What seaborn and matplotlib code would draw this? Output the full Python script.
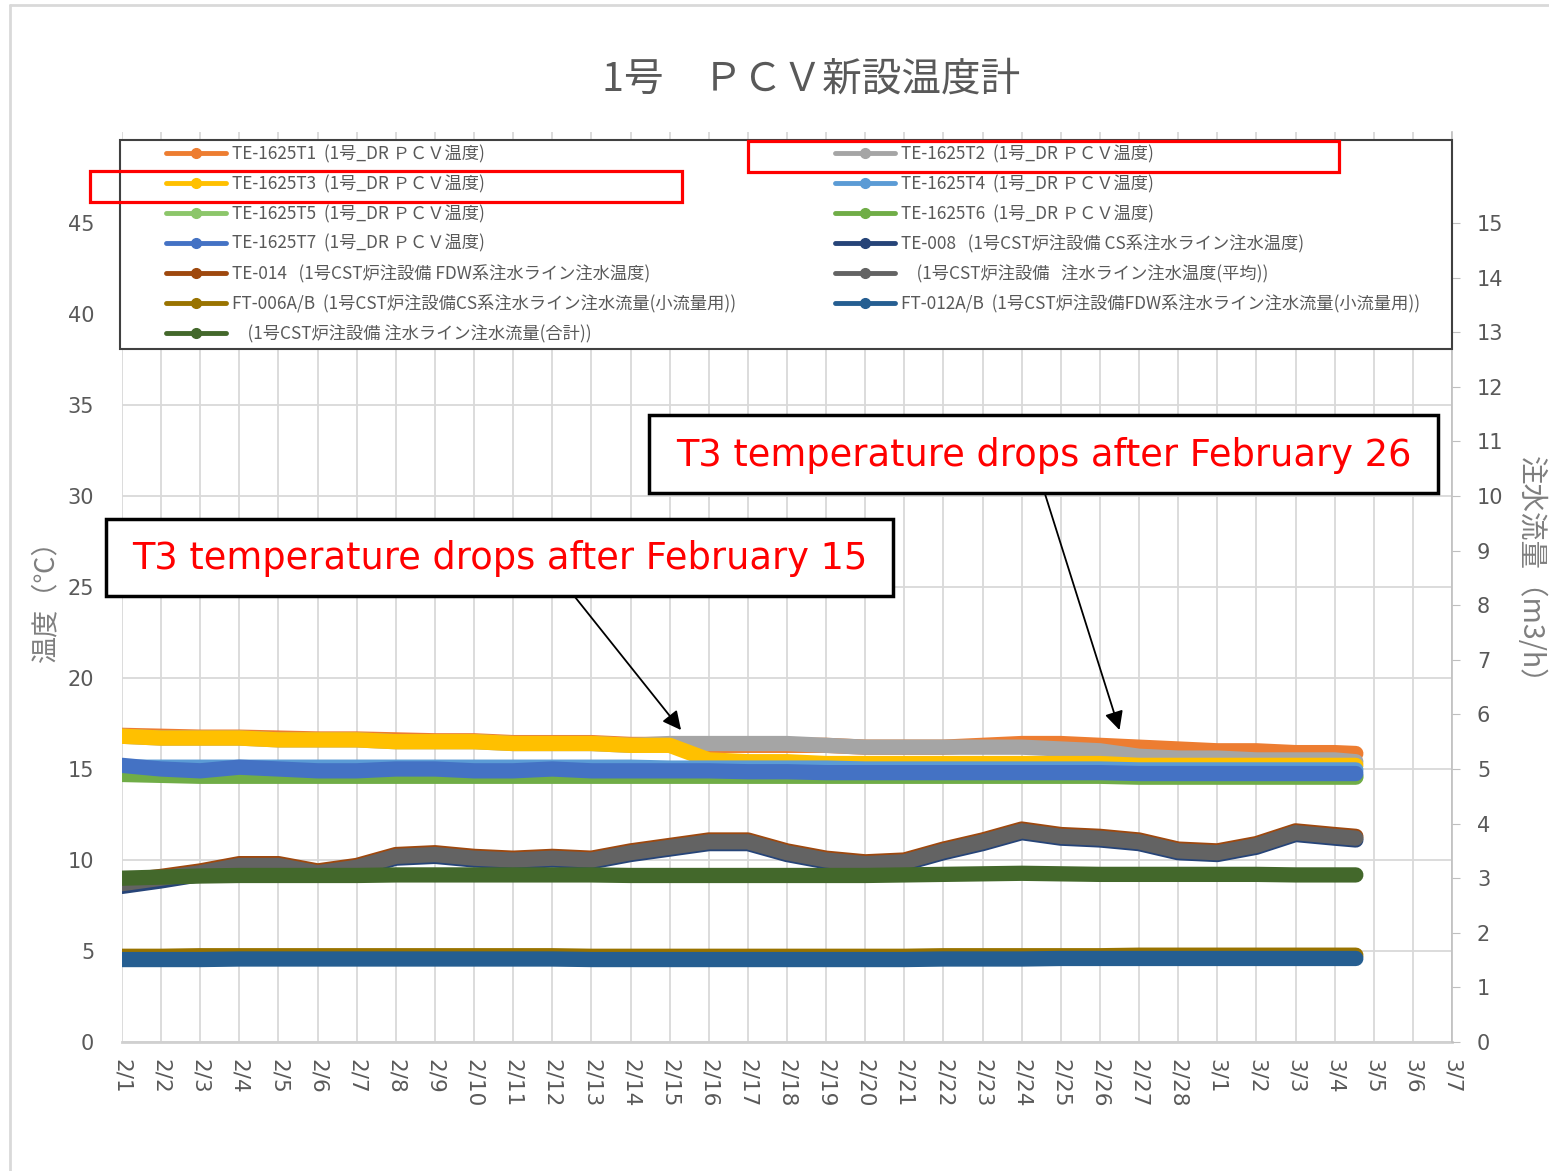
import datetime as dt
import numpy as np
import pandas as pd
import matplotlib
matplotlib.use("Agg")
import matplotlib.pyplot as plt
import matplotlib.dates as mdates
from matplotlib.patches import Rectangle
from matplotlib.lines import Line2D
from matplotlib.ticker import FuncFormatter
import seaborn as sns

# ---------------- data ----------------
days = list(pd.date_range("2023-02-01", "2023-03-04", freq="D")) + [pd.Timestamp("2023-03-04 13:00")]

t1 = [16.85, 16.8, 16.75, 16.75, 16.7, 16.65, 16.65, 16.6, 16.55, 16.55, 16.45, 16.45, 16.45, 16.35, 16.35, 16.3,
      16.3, 16.3, 16.3, 16.2, 16.2, 16.2, 16.3, 16.4, 16.4, 16.3, 16.2, 16.1, 16.0, 16.0, 15.9, 15.9, 15.85]
t2 = [16.8, 16.7, 16.7, 16.7, 16.6, 16.6, 16.6, 16.5, 16.5, 16.5, 16.4, 16.4, 16.4, 16.3, 16.4, 16.4,
      16.4, 16.4, 16.3, 16.2, 16.2, 16.2, 16.2, 16.2, 16.1, 16.0, 15.7, 15.6, 15.6, 15.5, 15.5, 15.5, 15.4]
t3 = [16.8, 16.7, 16.7, 16.7, 16.6, 16.6, 16.6, 16.5, 16.5, 16.5, 16.4, 16.4, 16.4, 16.3, 16.3, 15.5,
      15.4, 15.4, 15.3, 15.3, 15.3, 15.3, 15.3, 15.3, 15.3, 15.3, 15.2, 15.2, 15.2, 15.2, 15.2, 15.2, 15.2]
t4 = [15.1, 15.1, 15.1, 15.1, 15.1, 15.1, 15.1, 15.1, 15.1, 15.1, 15.1, 15.1, 15.1, 15.1, 15.05, 15.05,
      15.05, 15.05, 15.05, 15.0, 15.0, 15.0, 15.0, 15.0, 15.0, 15.0, 14.95, 14.95, 14.95, 14.95, 14.95, 14.95, 14.95]
t5 = [14.8, 14.75, 14.7, 14.7, 14.7, 14.7, 14.7, 14.7, 14.7, 14.7, 14.7, 14.7, 14.7, 14.7, 14.7, 14.7,
      14.65, 14.65, 14.65, 14.65, 14.65, 14.65, 14.65, 14.65, 14.65, 14.65, 14.6, 14.6, 14.6, 14.6, 14.6, 14.6, 14.6]
t6 = [14.7, 14.65, 14.6, 14.6, 14.6, 14.6, 14.6, 14.6, 14.6, 14.6, 14.6, 14.6, 14.6, 14.6, 14.6, 14.6,
      14.6, 14.6, 14.6, 14.6, 14.6, 14.6, 14.6, 14.6, 14.6, 14.6, 14.55, 14.55, 14.55, 14.55, 14.55, 14.55, 14.55]
t7 = [15.2, 15.0, 14.9, 15.1, 15.0, 14.9, 14.9, 15.0, 15.0, 14.9, 14.9, 15.0, 14.9, 14.9, 14.9, 14.9,
      14.85, 14.85, 14.8, 14.8, 14.8, 14.8, 14.8, 14.8, 14.8, 14.8, 14.75, 14.75, 14.75, 14.75, 14.75, 14.75, 14.75]
te008 = [8.55, 8.85, 9.2, 9.6, 9.6, 9.2, 9.5, 10.1, 10.2, 10.0, 9.9, 10.0, 9.9, 10.3, 10.6, 10.9,
         10.9, 10.3, 9.9, 9.7, 9.8, 10.4, 10.9, 11.5, 11.2, 11.1, 10.9, 10.4, 10.3, 10.7, 11.4, 11.2, 11.1]
te014 = [8.85, 9.1, 9.4, 9.8, 9.8, 9.4, 9.7, 10.3, 10.4, 10.2, 10.1, 10.2, 10.1, 10.5, 10.8, 11.1,
         11.1, 10.5, 10.1, 9.9, 10.0, 10.6, 11.1, 11.7, 11.4, 11.3, 11.1, 10.6, 10.5, 10.9, 11.6, 11.4, 11.3]
te_avg = [8.7, 9.0, 9.3, 9.7, 9.7, 9.3, 9.6, 10.2, 10.3, 10.1, 10.0, 10.1, 10.0, 10.4, 10.7, 11.0,
          11.0, 10.4, 10.0, 9.8, 9.9, 10.5, 11.0, 11.6, 11.3, 11.2, 11.0, 10.5, 10.4, 10.8, 11.5, 11.3, 11.2]
ft006 = [1.57, 1.57, 1.58, 1.58, 1.58, 1.58, 1.58, 1.58, 1.58, 1.58, 1.58, 1.58, 1.57, 1.57, 1.57, 1.57,
         1.57, 1.57, 1.57, 1.57, 1.57, 1.58, 1.58, 1.58, 1.58, 1.58, 1.59, 1.59, 1.59, 1.59, 1.59, 1.59, 1.59]
ft012 = [1.51, 1.51, 1.51, 1.52, 1.52, 1.52, 1.52, 1.52, 1.52, 1.52, 1.52, 1.52, 1.51, 1.51, 1.51, 1.51,
         1.51, 1.51, 1.51, 1.51, 1.51, 1.52, 1.52, 1.52, 1.53, 1.53, 1.53, 1.53, 1.53, 1.53, 1.53, 1.53, 1.53]
ft_total = [3.0, 3.02, 3.04, 3.05, 3.05, 3.05, 3.05, 3.06, 3.06, 3.06, 3.06, 3.06, 3.06, 3.05, 3.05, 3.05,
            3.05, 3.05, 3.05, 3.05, 3.06, 3.07, 3.08, 3.09, 3.08, 3.07, 3.07, 3.07, 3.07, 3.07, 3.06, 3.06, 3.06]

names = [
    "TE-1625T1  (1号_DR ＰＣＶ温度)",
    "TE-1625T2  (1号_DR ＰＣＶ温度)",
    "TE-1625T3  (1号_DR ＰＣＶ温度)",
    "TE-1625T4  (1号_DR ＰＣＶ温度)",
    "TE-1625T5  (1号_DR ＰＣＶ温度)",
    "TE-1625T6  (1号_DR ＰＣＶ温度)",
    "TE-1625T7  (1号_DR ＰＣＶ温度)",
    "TE-008   (1号CST炉注設備 CS系注水ライン注水温度)",
    "TE-014   (1号CST炉注設備 FDW系注水ライン注水温度)",
    "    (1号CST炉注設備   注水ライン注水温度(平均))",
    "FT-006A/B  (1号CST炉注設備CS系注水ライン注水流量(小流量用))",
    "FT-012A/B  (1号CST炉注設備FDW系注水ライン注水流量(小流量用))",
    "    (1号CST炉注設備 注水ライン注水流量(合計))",
]
colors = ["#ED7D31", "#A5A5A5", "#FFC000", "#5B9BD5", "#8CC66A", "#70AD47", "#4472C4",
          "#264478", "#9E480E", "#636363", "#997300", "#255E91", "#43682B"]
temp_series = [t1, t2, t3, t4, t5, t6, t7, te008, te014, te_avg]
flow_series = [ft006, ft012, ft_total]

title = "1号　ＰＣＶ新設温度計"
ylabel_left = "温度（℃）"
ylabel_right = "注水流量（m3/h）"
note1 = "T3 temperature drops after February 15"
note2 = "T3 temperature drops after February 26"

# ---------------- style ----------------
sns.set_style("white")
plt.rcParams["font.family"] = ["Noto Sans CJK JP", "DejaVu Sans"]

W, H = 1549, 1171
fig = plt.figure(figsize=(W / 100, H / 100), dpi=100)
fig.patch.set_facecolor("white")

def fx(x):
    return x / W

def fy(y):
    return 1 - y / H

ax = fig.add_axes([fx(122), fy(1042), (1452 - 122) / W, (1042 - 132) / H])
ax2 = ax.twinx()

LW = 11
for vals, c in zip(temp_series, colors[:10]):
    sns.lineplot(x=days, y=vals, ax=ax, color=c, lw=LW, solid_capstyle="round", legend=False)
for vals, c in zip(flow_series, colors[10:]):
    sns.lineplot(x=days, y=vals, ax=ax2, color=c, lw=LW, solid_capstyle="round", legend=False)

ax.set_xlim(dt.datetime(2023, 2, 1), dt.datetime(2023, 3, 7))
ax.xaxis.set_major_locator(mdates.DayLocator())
ax.xaxis.set_major_formatter(FuncFormatter(lambda v, p: f"{mdates.num2date(v).month}/{mdates.num2date(v).day}"))
ax.set_ylim(0, 50)
ax.set_yticks(list(range(0, 50, 5)))
ax2.set_ylim(0, 50 / 3)
ax2.set_yticks(list(range(0, 16)))

ax.grid(True, color="#D9D9D9", lw=1.3)
ax.set_xlabel("")
ax.set_ylabel("")
ax2.set_ylabel("")
for s in ["left", "top", "right"]:
    ax.spines[s].set_visible(False)
ax.spines["bottom"].set_color("#D0D0D0")
ax.spines["bottom"].set_linewidth(2)
for s in ["left", "top", "bottom"]:
    ax2.spines[s].set_visible(False)
ax2.spines["right"].set_color("#BFBFBF")
ax2.spines["right"].set_linewidth(1.2)

ax.tick_params(axis="y", length=0, pad=20, labelsize=15, labelcolor="#595959")
ax.tick_params(axis="x", length=0, pad=12, labelsize=15.5, labelcolor="#595959")
ax2.tick_params(axis="y", length=6, color="#BFBFBF", pad=12, labelsize=15, labelcolor="#595959")
for lab in ax.get_xticklabels():
    lab.set_rotation(-90)
    lab.set_ha("center")
    lab.set_va("top")
    lab.set_family("DejaVu Sans")
for lab in ax.get_yticklabels() + ax2.get_yticklabels():
    lab.set_family("DejaVu Sans")

# axis titles and title
fig.text(fx(46), fy(595), ylabel_left, rotation=90, ha="center", va="center", fontsize=19.5, color="#7F7F7F")
fig.text(fx(1530), fy(577), ylabel_right, rotation=-90, ha="center", va="center", fontsize=20.5, color="#7F7F7F")
fig.text(fx(811), fy(80), title, ha="center", va="center", fontsize=28.5, color="#595959")

# legend box
fig.add_artist(Rectangle((fx(120), fy(349)), (1452 - 120) / W, (349 - 140) / H, transform=fig.transFigure,
                         facecolor="white", edgecolor="#404040", lw=1.5, zorder=4))
handles = [Line2D([], [], color=c, lw=3.5, marker="o", markersize=7) for c in colors]
order = [0, 2, 4, 6, 8, 10, 12, 1, 3, 5, 7, 9, 11]
leg = fig.legend([handles[i] for i in order], [names[i] for i in order], ncol=2, loc="upper left",
                 bbox_to_anchor=(fx(166), fy(145) - 0.2, (1420 - 166) / W, 0.2), mode="expand",
                 frameon=False, fontsize=12.4, handlelength=3.5, handletextpad=0.35, labelspacing=0.68,
                 borderpad=0, borderaxespad=0, labelcolor="#595959")
leg.set_zorder(5)

# red highlight boxes
for (x0, y0, x1, y1) in [(90, 171, 682, 202), (748, 141, 1339, 172)]:
    fig.add_artist(Rectangle((fx(x0), fy(y1)), (x1 - x0) / W, (y1 - y0) / H, transform=fig.transFigure,
                             facecolor="none", edgecolor="#FF0000", lw=2.3, zorder=6))

# annotation boxes
for (x0, y0, x1, y1, txt) in [(106, 519, 893, 596, note1), (649, 415, 1438, 493, note2)]:
    fig.add_artist(Rectangle((fx(x0), fy(y1)), (x1 - x0) / W, (y1 - y0) / H, transform=fig.transFigure,
                             facecolor="white", edgecolor="black", lw=2.5, zorder=7))
    fig.text(fx((x0 + x1) / 2), fy((y0 + y1) / 2 + 1), txt, ha="center", va="center", fontsize=26.5,
             color="#FF0000", family="DejaVu Sans", zorder=8)

for (sx, sy, tip) in [(575, 597, dt.datetime(2023, 2, 15, 7)), (1045, 494, dt.datetime(2023, 2, 26, 12))]:
    ax2.annotate("", xy=(mdates.date2num(tip), 17.14 / 3), xycoords="data",
                 xytext=(fx(sx), fy(sy)), textcoords="figure fraction",
                 arrowprops=dict(arrowstyle="-|>", color="black", lw=1.3, mutation_scale=28,
                                 shrinkA=0, shrinkB=0), zorder=9)

# outer frame
fig.add_artist(Line2D([fx(10), fx(10)], [0, fy(5)], color="#D9D9D9", lw=2, transform=fig.transFigure))
fig.add_artist(Line2D([fx(10), 1], [fy(5), fy(5)], color="#D9D9D9", lw=2, transform=fig.transFigure))

fig.savefig("out.png", dpi=100)
